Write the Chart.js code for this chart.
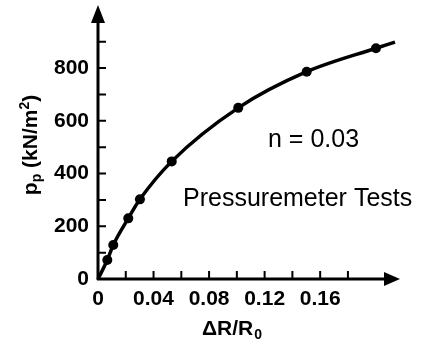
<!DOCTYPE html>
<html>
<head>
<meta charset="utf-8">
<script src="https://cdn.jsdelivr.net/npm/chart.js@4.4.0/dist/chart.umd.min.js"></script>
<style>
  html, body { margin: 0; padding: 0; background: #fff; }
  #wrap { width: 433px; height: 341px; }
</style>
</head>
<body>
<div id="wrap"><canvas id="pressuremeter-chart"></canvas></div>
<script>
// values (first and last points only carry the line, no marker)
const strain = [0, 0.0067, 0.011, 0.0218, 0.0302, 0.0531, 0.101, 0.1503, 0.2002, 0.2139];
const pressure = [0, 72, 129, 230, 302, 446, 649, 786, 875, 898];
const measured = [false, true, true, true, true, true, true, true, true, false];

const xTicks = [0, 0.02, 0.04, 0.06, 0.08, 0.10, 0.12, 0.14, 0.16, 0.18];
const xLabels = [0, 0.04, 0.08, 0.12, 0.16];
const yTicks = [0, 100, 200, 300, 400, 500, 600, 700, 800, 900];
const yLabels = [0, 200, 400, 600, 800];

const xMax = 0.2175;
const yMax = 1039;

const tickFont = { family: 'Liberation Sans', weight: 'bold', size: 21 };
const noteFont = '25px "Liberation Sans", Arial, sans-serif';

Chart.defaults.color = '#000';

const hasLabel = (list, v) => list.some(l => Math.abs(l - v) < 1e-9);

// axes with arrow heads, inward tick marks, titles and notes
const arrowAxes = {
    id: 'arrowAxes',
    beforeDatasetsDraw(chart) {
        const { ctx, scales: { x, y } } = chart;
        const x0 = x.getPixelForValue(0);
        const y0 = y.getPixelForValue(0);
        const xEnd = x.getPixelForValue(xMax);
        const yEnd = y.getPixelForValue(yMax);

        ctx.save();
        ctx.strokeStyle = '#000';
        ctx.fillStyle = '#000';
        ctx.lineWidth = 3;
        ctx.beginPath();
        ctx.moveTo(x0 - 1, y0);
        ctx.lineTo(xEnd - 12, y0);
        ctx.moveTo(x0, y0 + 1);
        ctx.lineTo(x0, yEnd + 12);
        ctx.stroke();

        ctx.beginPath();
        ctx.moveTo(xEnd, y0);
        ctx.lineTo(xEnd - 16, y0 - 7);
        ctx.lineTo(xEnd - 16, y0 + 7);
        ctx.closePath();
        ctx.fill();

        ctx.beginPath();
        ctx.moveTo(x0, yEnd);
        ctx.lineTo(x0 - 7, yEnd + 18);
        ctx.lineTo(x0 + 7, yEnd + 18);
        ctx.closePath();
        ctx.fill();

        ctx.lineWidth = 2;
        ctx.beginPath();
        xTicks.forEach(v => {
            if (v === 0) return;
            const px = x.getPixelForValue(v);
            ctx.moveTo(px, y0);
            ctx.lineTo(px, y0 - 8);
        });
        yTicks.forEach(v => {
            if (v === 0) return;
            const py = y.getPixelForValue(v);
            ctx.moveTo(x0, py);
            ctx.lineTo(x0 + 8, py);
        });
        ctx.stroke();
        ctx.restore();
    },
    afterDraw(chart) {
        const { ctx } = chart;
        const big = 'bold 21px "Liberation Sans"';
        const small = 'bold 14px "Liberation Sans"';
        ctx.save();
        ctx.fillStyle = '#000';
        ctx.textBaseline = 'alphabetic';

        // x title: ΔR/R0
        ctx.font = big;
        ctx.fillText('ΔR/R', 202, 335);
        const w1 = ctx.measureText('ΔR/R').width;
        ctx.font = small;
        ctx.fillText('0', 202 + w1 + 1, 339);

        // y title: pp (kN/m2), rotated
        ctx.translate(37, 145);
        ctx.rotate(-Math.PI / 2);
        const parts = [
            ['p', big, 0], ['p', small, 4], [' (kN/m', big, 0], ['2', small, -8], [')', big, 0]
        ];
        let total = 0;
        parts.forEach(p => { ctx.font = p[1]; total += ctx.measureText(p[0]).width; });
        let cx = -total / 2;
        parts.forEach(p => {
            ctx.font = p[1];
            ctx.fillText(p[0], cx, p[2]);
            cx += ctx.measureText(p[0]).width;
        });
        ctx.restore();

        ctx.save();
        ctx.fillStyle = '#000';
        ctx.font = noteFont;
        ctx.fillText('n = 0.03', 268, 147);
        ctx.fillText('Pressuremeter Tests', 183, 206);
        ctx.restore();
    }
};

const noEdgePadding = scale => {
    scale.paddingTop = 0;
    scale.paddingBottom = 0;
    scale.paddingLeft = 0;
    scale.paddingRight = 0;
};

new Chart(document.getElementById('pressuremeter-chart'), {
    type: 'scatter',
    data: {
        datasets: [{
            data: strain.map((s, i) => ({ x: s, y: pressure[i] })),
            showLine: true,
            borderColor: '#000',
            backgroundColor: '#000',
            borderWidth: 3.5,
            pointRadius: measured.map(m => (m ? 5 : 0)),
            pointHoverRadius: measured.map(m => (m ? 5 : 0)),
            pointBorderWidth: 0,
            cubicInterpolationMode: 'monotone',
            clip: false
        }]
    },
    options: {
        responsive: true,
        maintainAspectRatio: false,
        animation: false,
        layout: { padding: { left: 0, right: 33, top: 5, bottom: 0 } },
        plugins: {
            legend: { display: false },
            tooltip: { enabled: false }
        },
        scales: {
            x: {
                type: 'linear',
                min: 0,
                max: xMax,
                grid: { display: false, drawTicks: false },
                border: { display: false },
                afterBuildTicks: scale => { scale.ticks = xTicks.map(v => ({ value: v })); },
                afterFit: scale => { scale.height = 62; noEdgePadding(scale); },
                ticks: {
                    autoSkip: false,
                    maxRotation: 0,
                    padding: 8,
                    font: tickFont,
                    color: '#000',
                    callback: v => (hasLabel(xLabels, v) ? (v === 0 ? '0' : v.toFixed(2)) : '')
                }
            },
            y: {
                type: 'linear',
                min: 0,
                max: yMax,
                grid: { display: false, drawTicks: false },
                border: { display: false },
                afterBuildTicks: scale => { scale.ticks = yTicks.map(v => ({ value: v })); },
                afterFit: scale => { scale.width = 98; noEdgePadding(scale); },
                ticks: {
                    autoSkip: false,
                    padding: 9,
                    font: tickFont,
                    color: '#000',
                    callback: v => (hasLabel(yLabels, v) ? String(v) : '')
                }
            }
        }
    },
    plugins: [arrowAxes]
});
</script>
</body>
</html>
